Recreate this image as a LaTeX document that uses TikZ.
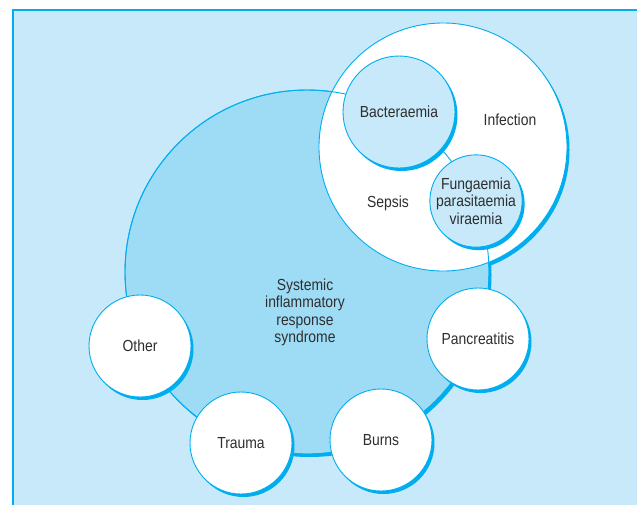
\documentclass[tikz,border=0pt]{standalone}
\usepackage{fontspec}
\setmainfont{Liberation Sans}[FakeStretch=0.87]
\usetikzlibrary{shadows}
\definecolor{paleblue}{HTML}{C7E9F9}
\definecolor{midblue}{HTML}{9EDCF6}
\definecolor{lineblue}{HTML}{00AEEF}
\definecolor{textgrey}{HTML}{2E2E2E}
\begin{document}
\begin{tikzpicture}[x=1pt,y=-1pt]
\tikzset{every node/.style={font=\fontsize{16}{17.5}\selectfont, text=textgrey, align=center}}
\tikzset{ring/.style={circle, draw=lineblue, line width=0.9pt, inner sep=0pt},
  shadowring/.style={ring, drop shadow={shadow xshift=2.5pt, shadow yshift=-3pt, fill=lineblue, opacity=1}}}

\useasboundingbox (0,0) rectangle (637,504);
\clip (0,0) rectangle (637,504);

% Frame
\fill[white] (0,0) rectangle (637,504);
\draw[lineblue, fill=paleblue, line width=1.3pt] (13,10) rectangle (660,530);

% Shadow of infection, hidden inside SIRS
\node[circle, fill=lineblue, inner sep=0pt, minimum size=248pt] at (445.5,150) (infshadow) {};

% Big circle
\node[shadowring, fill=midblue, minimum size=364pt] at (307,272) (sirs) {};
\node at (305,312.5) (sirstext) {Systemic\\inflammatory\\response\\syndrome};

% Infection
\node[ring, fill=white, minimum size=248pt] at (443,147) (infection) {};
\node at (510,120) (infectiontext) {Infection};
\node at (388,203) (sepsis) {Sepsis};

% Edge of big circle over infection
\node[ring, minimum size=364pt] at (sirs.center) (sirsedge) {};

% Inner circles
\node[shadowring, fill=paleblue, minimum size=112pt] at (399,112) (bact) {Bacteraemia};
\node[shadowring, fill=paleblue, minimum size=90pt] at (476,201) (fung) {Fungaemia\\parasitaemia\\viraemia};

% Causes round the edge
\node[shadowring, fill=white, minimum size=102pt] at (140,346) (other) {Other};
\node[shadowring, fill=white, minimum size=102pt] at (241,443) (trauma) {Trauma};
\node[shadowring, fill=white, minimum size=102pt] at (381,440) (burns) {Burns};
\node[shadowring, fill=white, minimum size=102pt] at (478,339) (pancreatitis) {Pancreatitis};
\end{tikzpicture}
\end{document}
